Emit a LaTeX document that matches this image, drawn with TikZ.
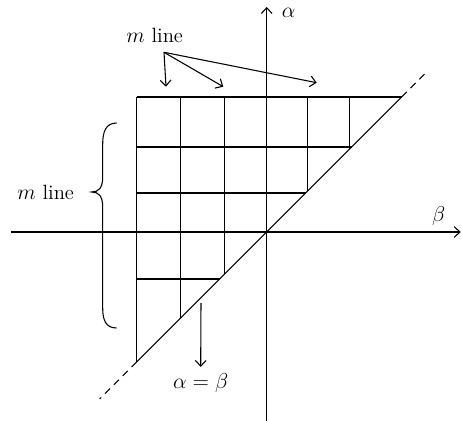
\documentclass[tikz,border=0pt]{standalone}
\usetikzlibrary{arrows.meta}

\begin{document}
\begin{tikzpicture}[x=0.0196cm,y=0.0196cm,line width=0.6pt,
    >={Straight Barb[length=3.2pt,width=6pt]},
    every node/.style={font=\fontsize{11.5}{14}\selectfont}]
  \useasboundingbox (-266.7,-189) rectangle (195.3,232);
  % axes
  \draw[->] (-256,0) -- (194,0);
  \draw[->] (0,-189) -- (0,225);
  \node (beta) at (172,16) {$\beta$};
  \node (alpha) at (22,219) {$\alpha$};
  % grid below the top line, cut by alpha = beta
  \foreach \y in {135,85,39,-47}
    \draw (-130,\y) -- (\y,\y);
  \foreach \x in {-86,-42,41,83}
    \draw (\x,135) -- (\x,\x);
  \draw (-130,135) -- (-130,-130);
  \draw (-130,-130) -- (135,135);
  \draw[dash pattern=on 4pt off 3pt] (135,135) -- (160,160);
  \draw[dash pattern=on 4pt off 3pt] (-130,-130) -- (-167,-167);
  % m line, top
  \node (mtop) at (-112,197) {$m$ line};
  \coordinate (mfrom) at (-102.7,179.7);
  \coordinate (m1) at (-100.7,145.3);
  \coordinate (m2) at (-43.4,145.3);
  \coordinate (m3) at (50,149.3);
  \draw[->] (mfrom) -- (m1);
  \draw[->] (mfrom) -- (m2);
  \draw[->] (mfrom) -- (m3);
  % m line, left
  \node (mleft) at (-221,40) {$m$ line};
  \draw (-150,109) .. controls (-161,109) and (-164,100) .. (-164,88)
    -- (-164,55) .. controls (-164,44) and (-168,40) .. (-175,40)
    .. controls (-168,40) and (-164,36) .. (-164,25)
    -- (-164,-76) .. controls (-164,-88) and (-161,-96) .. (-150,-96);
  % alpha = beta
  \node (ab) at (-66,-151) {$\alpha=\beta$};
  \coordinate (abfrom) at (-65.7,-71);
  \draw[->] (abfrom) -- (ab.north);
\end{tikzpicture}
\end{document}
